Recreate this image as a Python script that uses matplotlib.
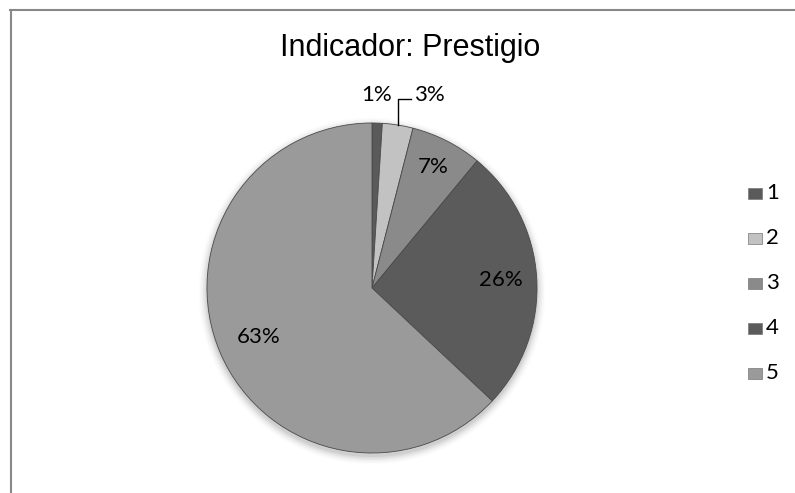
import numpy as np
import matplotlib
matplotlib.use("Agg")
import matplotlib.pyplot as plt
from matplotlib.lines import Line2D
from matplotlib.patches import Circle, Rectangle

title = "Indicador: Prestigio"
categories = ["1", "2", "3", "4", "5"]
values = [1, 3, 7, 26, 63]
labels = ["1%", "3%", "7%", "26%", "63%"]
colors = ["#5a5a5a", "#c2c2c2", "#8a8a8a", "#5b5b5b", "#9a9a9a"]

W, H = 795, 493
fig = plt.figure(figsize=(W / 100, H / 100), dpi=100)
ax = fig.add_axes([0, 0, 1, 1])

cx, cy, R = 372, H - 288, 165

# soft shadow
for i, a in enumerate(np.linspace(0.05, 0.01, 6)):
    ax.add_patch(Circle((cx, cy - 3), R + 1 + i * 1.5, color="black", alpha=a, lw=0, zorder=0))

wedges, _ = ax.pie(values, colors=colors, startangle=90, counterclock=False,
                   center=(cx, cy), radius=R, frame=True,
                   wedgeprops=dict(edgecolor="#4a4a4a", linewidth=0.6))
ax.set_xlim(0, W)
ax.set_ylim(0, H)
ax.set_aspect("equal")
ax.axis("off")

lab_font = dict(family=["Lato", "DejaVu Sans"], fontsize=16, color="black")
inner_r = [None, None, 0.82, 0.78, 0.75]
for i, w in enumerate(wedges):
    mid = np.deg2rad((w.theta1 + w.theta2) / 2)
    if inner_r[i] is not None:
        r = inner_r[i] * R
        ax.text(cx + r * np.cos(mid), cy + r * np.sin(mid), labels[i],
                ha="center", va="center", **lab_font)

# outside labels for small slices
ax.text(cx + 5, H - 95, labels[0], ha="center", va="center", **lab_font)
m2 = np.deg2rad((wedges[1].theta1 + wedges[1].theta2) / 2)
ex, ey = cx + R * np.cos(m2), cy + R * np.sin(m2)
ax.add_line(Line2D([ex, ex, ex + 13], [ey, H - 99, H - 99], color="black", lw=1))
ax.text(ex + 16, H - 95, labels[1], ha="left", va="center", **lab_font)

ax.text(410, H - 48, title, ha="center", va="center",
        family=["Liberation Sans", "DejaVu Sans"], fontsize=22, color="black")

# legend
for i, c in enumerate(categories):
    y = H - (193 + 45 * i)
    ax.add_patch(Rectangle((748, y - 5.5), 14, 11, facecolor=colors[i], edgecolor="#777777", lw=0.5))
    ax.text(766, y, c, ha="left", va="center", **lab_font)

# frame
fig.add_artist(Line2D([10.5 / W, 10.5 / W], [0, 1 - 9.5 / H], transform=fig.transFigure,
                      color="#888888", lw=1.5))
fig.add_artist(Line2D([10 / W, 1], [1 - 9.5 / H, 1 - 9.5 / H], transform=fig.transFigure,
                      color="#888888", lw=1.5))

fig.savefig("out.png", dpi=100)
